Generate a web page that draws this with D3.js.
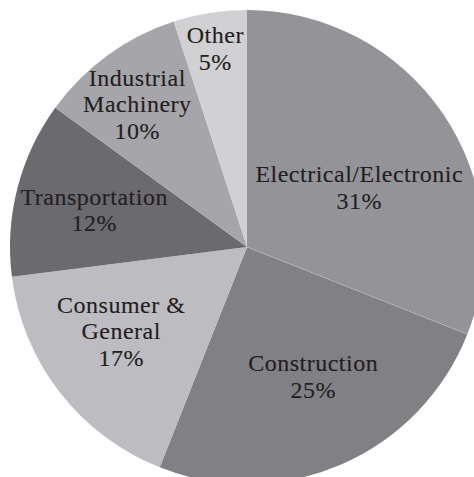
<!DOCTYPE html>
<html>
<head>
<meta charset="utf-8">
<script src="https://cdn.jsdelivr.net/npm/d3@7"></script>
<style>
  html, body { margin: 0; padding: 0; background: #fff; }
  svg { display: block; }
  text { font-family: "Liberation Serif", "Times New Roman", serif; fill: #231f20; }
</style>
</head>
<body>
<svg id="chart" width="474" height="477"></svg>
<script>
// Market share by end use
const categories = ["Electrical/Electronic", "Construction", "Consumer & General", "Transportation", "Industrial Machinery", "Other"];
const shares = [31, 25, 17, 12, 10, 5];
const labelLines = [
  ["Electrical/Electronic", "31%"],
  ["Construction", "25%"],
  ["Consumer &", "General", "17%"],
  ["Transportation", "12%"],
  ["Industrial", "Machinery", "10%"],
  ["Other", "5%"]
];
const colors = ["#949498", "#818185", "#bdbdc1", "#6b6b6f", "#a6a6aa", "#d1d1d4"];
// first-line anchor: [radius fraction, angle fraction within slice]
const labelPlace = [
  [0.546, 0.537],
  [0.593, 0.449],
  [0.600, 0.667],
  [0.670, 0.523],
  [0.823, 0.547],
  [0.871, 0.506]
];

const svg = d3.select("#chart");
const cx = 247, cy = 247, radius = 237;
const g = svg.append("g").attr("transform", `translate(${cx},${cy})`);

const pie = d3.pie().sort(null).value(d => d);
const arcs = pie(shares);
const arc = d3.arc().innerRadius(0).outerRadius(radius);

g.selectAll("path.slice")
  .data(arcs)
  .enter().append("path")
  .attr("class", "slice")
  .attr("d", arc)
  .attr("fill", (d, i) => colors[i]);

// faint seam along the first slice's trailing edge
const seamAngle = arcs[0].endAngle;
g.append("line")
  .attr("x1", 0).attr("y1", 0)
  .attr("x2", radius * Math.sin(seamAngle))
  .attr("y2", -radius * Math.cos(seamAngle))
  .attr("stroke", "#c9c9cd")
  .attr("stroke-width", 0.7)
  .attr("stroke-dasharray", "2,1");

const fontSize = 24, lineH = 26.5, spacing = 0.5;
arcs.forEach((d, i) => {
  const [rf, af] = labelPlace[i];
  const a = d.startAngle + (d.endAngle - d.startAngle) * af;
  const r = radius * rf;
  const x = r * Math.sin(a) + spacing / 2, y = -r * Math.cos(a);
  const t = g.append("text")
    .attr("text-anchor", "middle")
    .attr("font-size", fontSize)
    .attr("letter-spacing", spacing + "px")
    .attr("stroke", "#231f20")
    .attr("stroke-width", 0.15);
  labelLines[i].forEach((ln, k) => {
    t.append("tspan").attr("x", x).attr("y", y + k * lineH).text(ln);
  });
});
</script>
</body>
</html>
